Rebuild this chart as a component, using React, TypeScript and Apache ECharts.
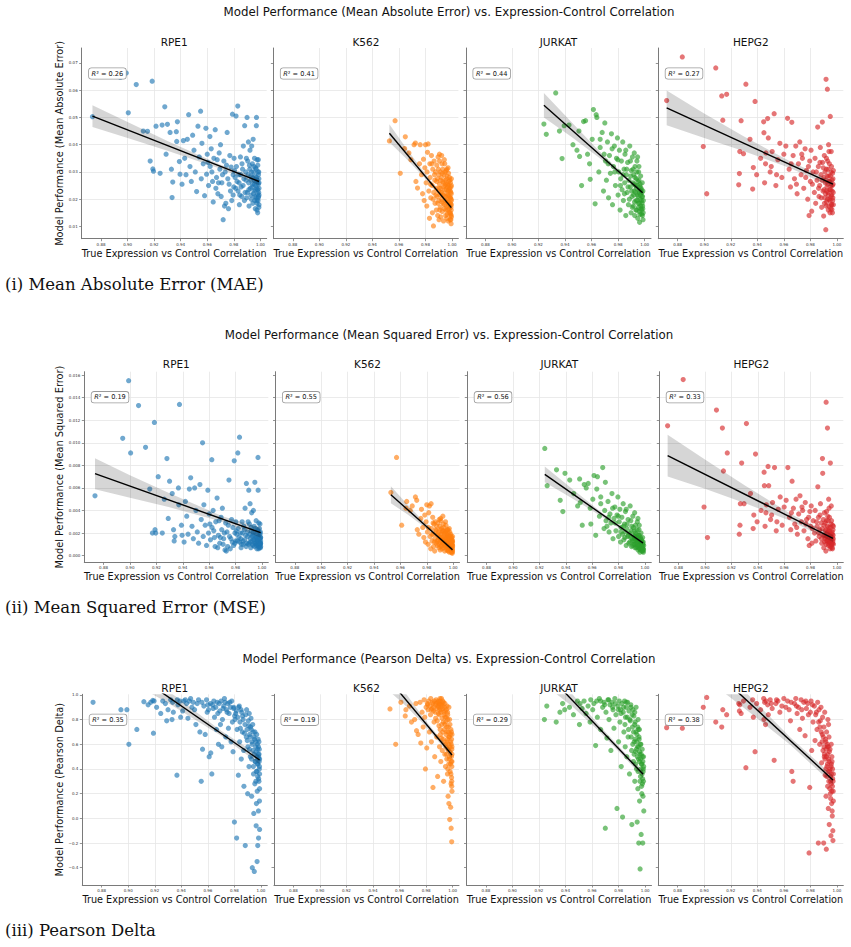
import React, { useEffect, useRef } from "react";
import * as echarts from "echarts";

// ---------- categories ----------
const cellLines = ["RPE1", "K562", "JURKAT", "HEPG2"];
const cellColors = ["#1f77b4", "#ff7f0e", "#2ca02c", "#d62728"];

// ---------- tick labels ----------
const xTicks = [0.88, 0.9, 0.92, 0.94, 0.96, 0.98, 1.0];
const maeTicks = [0.01, 0.02, 0.03, 0.04, 0.05, 0.06, 0.07];
const mseTicks = [0, 0.002, 0.004, 0.006, 0.008, 0.01, 0.012, 0.014, 0.016];
const pearsonTicks = [-0.4, -0.2, 0, 0.2, 0.4, 0.6, 0.8, 1.0];

// ---------- R² per panel ----------
const r2Mae = [0.26, 0.41, 0.44, 0.27];
const r2Mse = [0.19, 0.55, 0.56, 0.33];
const r2Pearson = [0.35, 0.19, 0.29, 0.38];

// ---------- RPE1: true expression vs control correlation, and metrics ----------
const rpe1X = [
  0.8735, 0.8945, 0.899, 0.9005, 0.9065, 0.9118, 0.915, 0.9185, 0.919, 0.9195,
  0.917, 0.9214, 0.9245, 0.926, 0.928, 0.929, 0.93, 0.932, 0.933, 0.934,
  0.9335, 0.9367, 0.937, 0.9375, 0.939, 0.9395, 0.941, 0.942, 0.943, 0.944,
  0.945, 0.946, 0.947, 0.948, 0.949, 0.95, 0.951, 0.952, 0.953, 0.954,
  0.955, 0.9555, 0.956, 0.957, 0.958, 0.959, 0.9595, 0.96, 0.961, 0.962,
  0.9622, 0.963, 0.964, 0.9645, 0.965, 0.966, 0.9665, 0.967, 0.968, 0.969,
  0.9695, 0.97, 0.9705, 0.971, 0.972, 0.9725, 0.973, 0.9735, 0.974, 0.975,
  0.9755, 0.976, 0.977, 0.9775, 0.978, 0.9785, 0.979, 0.9795, 0.98, 0.9802,
  0.981, 0.9817, 0.982, 0.983, 0.9832, 0.984, 0.9842, 0.985, 0.9852, 0.986,
  0.9862, 0.987, 0.9872, 0.988, 0.9882, 0.989, 0.9892, 0.99, 0.9902, 0.9905,
  0.991, 0.9912, 0.9915, 0.992, 0.9922, 0.9925, 0.993, 0.9932, 0.9935, 0.994,
  0.9942, 0.9944, 0.9946, 0.995, 0.9952, 0.9954, 0.9956, 0.996, 0.9962, 0.9964,
  0.9966, 0.997, 0.9971, 0.9972, 0.9974, 0.9976, 0.998, 0.9981, 0.9982, 0.9983,
  0.9984, 0.9986, 0.9988, 0.9989, 0.999, 0.999,
  0.9605, 0.9635, 0.9675, 0.9685, 0.9715, 0.9745, 0.9765, 0.9795, 0.9805, 0.9815,
  0.9825, 0.9837, 0.9845, 0.9855, 0.9866, 0.9876, 0.9885, 0.9895, 0.9897, 0.9908,
  0.9913, 0.9918, 0.9927, 0.9929, 0.9934, 0.9938, 0.9943, 0.9948, 0.9951, 0.9955,
  0.9958, 0.9961, 0.9963, 0.9965, 0.9968, 0.9969, 0.9973, 0.9975, 0.9977, 0.9979,
  0.9981, 0.9983, 0.9985, 0.9987, 0.9988, 0.9989, 0.999, 0.999, 0.9985, 0.9975,
];
const rpe1Mae = [
  0.0503, 0.0647, 0.0663, 0.0517, 0.0621, 0.045, 0.0449, 0.0633, 0.0311, 0.0303,
  0.034, 0.0468, 0.0295, 0.0472, 0.0539, 0.0365, 0.0475, 0.0445, 0.031, 0.0263,
  0.0206, 0.0448, 0.0412, 0.0484, 0.0338, 0.0292, 0.0255, 0.0415, 0.035, 0.029,
  0.042, 0.051, 0.032, 0.0265, 0.0435, 0.038, 0.03, 0.0228, 0.0468, 0.0355,
  0.0523, 0.0275, 0.0405, 0.033, 0.0213, 0.046, 0.0292, 0.0365, 0.025, 0.043,
  0.032, 0.0385, 0.0265, 0.019, 0.035, 0.0455, 0.024, 0.028, 0.022, 0.037,
  0.031, 0.04, 0.021, 0.026, 0.0125, 0.034, 0.0175, 0.03, 0.0185, 0.0445,
  0.0275, 0.0165, 0.036, 0.023, 0.0318, 0.0195, 0.0512, 0.029, 0.0245, 0.035,
  0.028, 0.0505, 0.032, 0.0542, 0.023, 0.026, 0.018, 0.0355, 0.029, 0.021,
  0.033, 0.025, 0.0395, 0.0195, 0.047, 0.03, 0.027, 0.05, 0.0225, 0.034,
  0.041, 0.026, 0.0175, 0.031, 0.038, 0.024, 0.0285, 0.02, 0.0395, 0.033,
  0.0255, 0.0185, 0.042, 0.03, 0.023, 0.027, 0.035, 0.021, 0.0165, 0.0315,
  0.025, 0.047, 0.05, 0.028, 0.0195, 0.0345, 0.015, 0.0235, 0.026, 0.03,
  0.0205, 0.029, 0.0225, 0.0275, 0.018, 0.024,
  0.0335, 0.03, 0.0345, 0.026, 0.029, 0.0325, 0.0255, 0.0215, 0.0305, 0.024,
  0.0265, 0.029, 0.0215, 0.0245, 0.031, 0.0275, 0.0225, 0.035, 0.0205, 0.029,
  0.0235, 0.0325, 0.027, 0.0215, 0.03, 0.0245, 0.028, 0.022, 0.032, 0.0255,
  0.0195, 0.0285, 0.0235, 0.0265, 0.0205, 0.031, 0.024, 0.0185, 0.027, 0.022,
  0.0325, 0.0195, 0.0255, 0.021, 0.03, 0.017, 0.026, 0.0215, 0.0345, 0.016,
];
const rpe1Mse = [
  0.0053, 0.0104, 0.0155, 0.0091, 0.0133, 0.0096, 0.0059, 0.0118, 0.0023, 0.002,
  0.002, 0.007, 0.002, 0.005, 0.0086, 0.0033, 0.0066, 0.0055, 0.0023, 0.0017,
  0.0013, 0.006, 0.0045, 0.0134, 0.0027, 0.0018, 0.0012, 0.0048, 0.0035, 0.0019,
  0.0059, 0.0069, 0.0026, 0.0015, 0.006, 0.004, 0.0021, 0.0011, 0.0063, 0.0032,
  0.01, 0.0017, 0.0045, 0.0027, 0.0009, 0.0058, 0.002, 0.0037, 0.0014, 0.0085,
  0.0025, 0.004, 0.0016, 0.0008, 0.003, 0.0051, 0.0007, 0.0018, 0.0011, 0.0034,
  0.0023, 0.0042, 0.001, 0.0015, 0.0005, 0.0029, 0.0004, 0.0021, 0.0008, 0.0067,
  0.0017, 0.0006, 0.0032, 0.0012, 0.0025, 0.0009, 0.0084, 0.002, 0.0013, 0.003,
  0.0019, 0.0091, 0.0024, 0.0105, 0.0012, 0.0015, 0.0007, 0.003, 0.002, 0.001,
  0.0026, 0.0014, 0.0042, 0.0008, 0.0064, 0.0021, 0.0017, 0.0058, 0.0011, 0.0028,
  0.0046, 0.0015, 0.0007, 0.0022, 0.0038, 0.0013, 0.0018, 0.0009, 0.004, 0.0026,
  0.0014, 0.0008, 0.0065, 0.0021, 0.0011, 0.0016, 0.0031, 0.001, 0.0006, 0.0023,
  0.0014, 0.0087, 0.0058, 0.0017, 0.0009, 0.0029, 0.0007, 0.0012, 0.0015, 0.002,
  0.001, 0.0019, 0.0011, 0.0016, 0.0008, 0.0013,
  0.0028, 0.0022, 0.0031, 0.0016, 0.002, 0.0027, 0.0015, 0.0011, 0.0022, 0.0013,
  0.0016, 0.002, 0.001, 0.0013, 0.0023, 0.0018, 0.0011, 0.003, 0.001, 0.0019,
  0.0012, 0.0025, 0.0017, 0.001, 0.0021, 0.0014, 0.0018, 0.0011, 0.0024, 0.0015,
  0.0009, 0.0019, 0.0012, 0.0016, 0.001, 0.0022, 0.0013, 0.0008, 0.0017, 0.0011,
  0.0024, 0.0009, 0.0015, 0.001, 0.0021, 0.0007, 0.0016, 0.0011, 0.0028, 0.0006,
];
const rpe1Pearson = [
  0.94, 0.88, 0.88, 0.6, 0.72, 0.945, 0.92, 0.955, 0.69, 0.95,
  0.94, 0.9, 0.85, 0.95, 0.93, 0.79, 0.88, 0.96, 0.8, 0.86,
  0.94, 0.35, 0.96, 0.92, 0.95, 0.82, 0.87, 0.95, 0.96, 0.93,
  0.81, 0.95, 0.97, 0.9, 0.94, 0.88, 0.76, 0.93, 0.96, 0.7,
  0.3, 0.94, 0.56, 0.91, 0.68, 0.96, 0.86, 0.92, 0.5, 0.93,
  0.53, 0.36, 0.89, 0.95, 0.82, 0.9, 0.72, 0.94, 0.6, 0.87,
  0.76, 0.95, 0.58, 0.8, 0.91, 0.97, 0.94, 0.66, 0.88, 0.93,
  0.73, 0.85, 0.9, 0.62, 0.95, 0.78, 0.54, 0.89, -0.03, 0.83,
  0.85, -0.16, 0.72, 0.35, 0.9, 0.62, 0.78, 0.88, 0.48, 0.7,
  0.83, 0.55, 0.26, 0.76, -0.22, 0.66, 0.88, 0.2, 0.58, 0.79,
  0.42, 0.85, 0.68, 0.5, 0.74, 0.81, 0.18, 0.62, -0.4, 0.55,
  0.7, 0.36, 0.04, -0.43, 0.64, 0.28, 0.46, 0.58, 0.3, -0.06,
  0.12, 0.38, -0.35, 0.22, 0.44, -0.22, 0.52, 0.06, -0.16, 0.32,
  0.48, 0.52, 0.4, 0.14, 0.36, -0.09,
  0.88, 0.92, 0.85, 0.93, 0.89, 0.86, 0.94, 0.9, 0.8, 0.87,
  0.82, 0.91, 0.73, 0.86, 0.8, 0.69, 0.84, 0.72, 0.63, 0.75,
  0.56, 0.66, 0.72, 0.48, 0.6, 0.76, 0.42, 0.66, 0.52, 0.7,
  0.46, 0.62, 0.54, 0.38, 0.68, 0.5, 0.6, 0.56, 0.44, 0.64,
  0.58, 0.5, 0.3, 0.46, 0.56, 0.42, 0.48, 0.24, 0.62, 0.34,
];

// ---------- K562 ----------
const k562X = [
  0.9528, 0.9571, 0.961, 0.9643, 0.9648, 0.9675, 0.969, 0.9714, 0.9724, 0.9728,
  0.974, 0.9755, 0.976, 0.977, 0.9778, 0.9785, 0.979, 0.9795, 0.98, 0.9805,
  0.981, 0.9815, 0.982, 0.9825, 0.983, 0.9833, 0.9835, 0.984, 0.9845, 0.985,
  0.9852, 0.9855, 0.986, 0.9862, 0.9865, 0.987, 0.9872, 0.9875, 0.988, 0.9882,
  0.9885, 0.9887, 0.989, 0.9892, 0.9895, 0.9897, 0.99, 0.9901, 0.9902, 0.9905,
  0.9906, 0.991, 0.9911, 0.9912, 0.9915, 0.9916, 0.992, 0.9921, 0.9922, 0.9925,
  0.9926, 0.993, 0.9931, 0.9932, 0.9935, 0.9936, 0.994, 0.9941, 0.9942, 0.9945,
  0.9946, 0.995, 0.9951, 0.9952, 0.9955, 0.9956, 0.9958, 0.996, 0.9961, 0.9962,
  0.9965, 0.9966, 0.9968, 0.997, 0.9971, 0.9972, 0.9975, 0.9976, 0.9978, 0.998,
  0.9981, 0.9982, 0.9985, 0.9986, 0.9988, 0.9989, 0.999, 0.9991, 0.9992, 0.9993,
  0.9995, 0.9995, 0.9995,
  0.9812, 0.9838, 0.9848, 0.9858, 0.9868, 0.9878, 0.9884, 0.9893, 0.9898, 0.9903,
  0.9908, 0.9913, 0.9918, 0.9923, 0.9927, 0.9933, 0.9937, 0.9943, 0.9947, 0.9948,
  0.9953, 0.9954, 0.9957, 0.9959, 0.9963, 0.9964, 0.9967, 0.9969, 0.9973, 0.9974,
  0.9977, 0.9979, 0.9983, 0.9984, 0.9987, 0.9987, 0.9989, 0.9991, 0.9992, 0.9993,
  0.9994, 0.9994, 0.9995, 0.9995, 0.9993, 0.9972, 0.9962, 0.9942, 0.9925, 0.9905,
];
const k562Mae = [
  0.0414, 0.0488, 0.0295, 0.0386, 0.0429, 0.037, 0.0345, 0.04, 0.0406, 0.0265,
  0.0241, 0.033, 0.04, 0.029, 0.022, 0.0347, 0.0195, 0.0315, 0.04, 0.026,
  0.0175, 0.0372, 0.0403, 0.023, 0.013, 0.033, 0.028, 0.0205, 0.036, 0.025,
  0.015, 0.031, 0.0102, 0.0225, 0.034, 0.027, 0.0185, 0.03, 0.024, 0.016,
  0.0325, 0.021, 0.0275, 0.014, 0.0355, 0.023, 0.0195, 0.029, 0.0125, 0.0255,
  0.034, 0.0215, 0.017, 0.03, 0.024, 0.0135, 0.028, 0.02, 0.036, 0.0225,
  0.0155, 0.0265, 0.031, 0.0185, 0.0245, 0.012, 0.029, 0.021, 0.0165, 0.033,
  0.0235, 0.0195, 0.027, 0.014, 0.0255, 0.0305, 0.0175, 0.022, 0.013, 0.0285,
  0.02, 0.0245, 0.016, 0.0315, 0.023, 0.012, 0.0265, 0.019, 0.021, 0.015,
  0.028, 0.024, 0.018, 0.0125, 0.026, 0.0205, 0.0145, 0.0225, 0.017, 0.011,
  0.0195, 0.0135, 0.025,
  0.03, 0.0255, 0.033, 0.02, 0.029, 0.0215, 0.0265, 0.0185, 0.031, 0.024,
  0.016, 0.027, 0.0225, 0.019, 0.0295, 0.0215, 0.026, 0.018, 0.025, 0.03,
  0.021, 0.016, 0.0235, 0.0275, 0.019, 0.0145, 0.0255, 0.0215, 0.0175, 0.0295,
  0.0235, 0.0165, 0.0205, 0.027, 0.015, 0.023, 0.0185, 0.0125, 0.0245, 0.02,
  0.016, 0.022, 0.018, 0.0275, 0.014, 0.025, 0.031, 0.0345, 0.033, 0.0365,
];
const k562Mse = [
  0.0056, 0.0087, 0.0027, 0.0042, 0.0048, 0.004, 0.0044, 0.0052, 0.0049, 0.0023,
  0.0019, 0.0033, 0.0041, 0.0025, 0.0016, 0.0036, 0.0012, 0.003, 0.0045, 0.0021,
  0.001, 0.0038, 0.0044, 0.0017, 0.0006, 0.0046, 0.0024, 0.0013, 0.0034, 0.0019,
  0.0008, 0.0028, 0.0004, 0.0015, 0.003, 0.0022, 0.0011, 0.0026, 0.0018, 0.0009,
  0.0029, 0.0014, 0.0021, 0.0007, 0.0032, 0.0016, 0.0012, 0.0023, 0.0005, 0.0019,
  0.0031, 0.0013, 0.0009, 0.0024, 0.0016, 0.0006, 0.0022, 0.0011, 0.0035, 0.0014,
  0.0007, 0.002, 0.0025, 0.001, 0.0016, 0.0004, 0.0021, 0.0012, 0.0008, 0.0027,
  0.0015, 0.0011, 0.0019, 0.0005, 0.0017, 0.0023, 0.0009, 0.0013, 0.0004, 0.002,
  0.001, 0.0015, 0.0007, 0.0024, 0.0013, 0.0003, 0.0017, 0.0009, 0.0011, 0.0006,
  0.0019, 0.0014, 0.0008, 0.0003, 0.0016, 0.001, 0.0005, 0.0012, 0.0007, 0.0002,
  0.0009, 0.0004, 0.0013,
  0.0025, 0.0019, 0.0029, 0.0012, 0.0023, 0.0013, 0.0019, 0.001, 0.0026, 0.0016,
  0.0008, 0.0019, 0.0014, 0.0011, 0.0022, 0.0012, 0.0018, 0.0009, 0.0016, 0.0022,
  0.0012, 0.0007, 0.0014, 0.0018, 0.001, 0.0005, 0.0016, 0.0012, 0.0008, 0.0021,
  0.0014, 0.0007, 0.0011, 0.0017, 0.0005, 0.0013, 0.0009, 0.0003, 0.0014, 0.001,
  0.0006, 0.0012, 0.0008, 0.0017, 0.0004, 0.0015, 0.0023, 0.003, 0.0028, 0.0033,
];
const k562Pearson = [
  0.886, 0.6, 0.94, 0.83, 0.88, 0.91, 0.78, 0.8, 0.93, 0.71,
  0.68, 0.94, 0.61, 0.86, 0.74, 0.96, 0.82, 0.4, 0.9, 0.57,
  0.93, 0.88, 0.95, 0.7, 0.91, 0.84, 0.97, 0.62, 0.89, 0.93,
  0.25, 0.87, 0.78, 0.95, 0.5, 0.92, 0.81, 0.96, 0.66, 0.89,
  0.94, 0.34, 0.91, 0.85, 0.9, 0.75, 0.93, 0.58, 0.88, 0.95,
  0.72, 0.86, 0.46, 0.92, 0.65, 0.97, 0.81, 0.93, 0.55, 0.89,
  0.7, 0.78, 0.94, 0.3, 0.84, 0.62, 0.9, 0.52, 0.76, 0.87,
  0.42, 0.68, 0.82, 0.58, 0.74, 0.48, 0.91, 0.64, 0.36, 0.8,
  0.56, 0.18, 0.7, 0.6, 0.44, 0.12, 0.66, 0.5, -0.01, 0.76,
  0.38, 0.54, 0.09, 0.62, 0.28, -0.08, 0.46, 0.7, 0.33, -0.19,
  0.52, 0.22, 0.58,
  0.92, 0.88, 0.94, 0.9, 0.86, 0.93, 0.79, 0.95, 0.84, 0.92,
  0.68, 0.88, 0.76, 0.91, 0.64, 0.86, 0.72, 0.82, 0.6, 0.78,
  0.88, 0.52, 0.7, 0.62, 0.84, 0.4, 0.74, 0.56, 0.66, 0.48,
  0.8, 0.58, 0.68, 0.44, 0.72, 0.36, 0.6, 0.5, 0.64, 0.26,
  0.56, 0.42, 0.68, 0.46, 0.3, 0.9, 0.86, 0.93, 0.95, 0.97,
];

// ---------- JURKAT ----------
const jurkatX = [
  0.9241, 0.9259, 0.933, 0.9358, 0.9378, 0.9394, 0.943, 0.946, 0.949, 0.9505,
  0.951, 0.9525, 0.954, 0.9555, 0.957, 0.9585, 0.959, 0.9605, 0.9614, 0.9627,
  0.9635, 0.964, 0.9655, 0.9665, 0.968, 0.969, 0.97, 0.9705, 0.9712, 0.972,
  0.9728, 0.9735, 0.9742, 0.975, 0.9758, 0.9765, 0.9772, 0.978, 0.9788, 0.9795,
  0.98, 0.9805, 0.981, 0.9815, 0.982, 0.9825, 0.983, 0.9835, 0.984, 0.9845,
  0.985, 0.9852, 0.9858, 0.9862, 0.9868, 0.9872, 0.9878, 0.9882, 0.9888, 0.9892,
  0.9898, 0.99, 0.9905, 0.9908, 0.9912, 0.9915, 0.9918, 0.9922, 0.9925, 0.9928,
  0.9932, 0.9935, 0.9938, 0.994, 0.9942, 0.9945, 0.9948, 0.995, 0.9952, 0.9955,
  0.9958, 0.996, 0.9962, 0.9965, 0.9968, 0.997, 0.9972, 0.9975, 0.9978, 0.998,
  0.9982, 0.9985, 0.9988, 0.999,
  0.9665, 0.9695, 0.9725, 0.9755, 0.9775, 0.9798, 0.9818, 0.9838, 0.9848, 0.9865,
  0.9875, 0.9885, 0.9895, 0.9902, 0.9907, 0.9913, 0.9917, 0.9921, 0.9924, 0.9927,
  0.9931, 0.9934, 0.9937, 0.9941, 0.9944, 0.9947, 0.9951, 0.9954, 0.9957, 0.9959,
  0.9961, 0.9964, 0.9966, 0.9969, 0.9971, 0.9973, 0.9976, 0.9977, 0.9979, 0.9981,
  0.9983, 0.9984, 0.9986, 0.9987, 0.9989, 0.9957, 0.9947, 0.9922, 0.9893, 0.9858,
];
const jurkatMae = [
  0.0476, 0.0438, 0.059, 0.045, 0.0349, 0.047, 0.0472, 0.04, 0.038, 0.045,
  0.0357, 0.025, 0.0485, 0.0488, 0.0365, 0.033, 0.0273, 0.042, 0.0529, 0.0183,
  0.051, 0.05, 0.03, 0.039, 0.0445, 0.023, 0.048, 0.034, 0.027, 0.041,
  0.0205, 0.036, 0.0295, 0.044, 0.018, 0.032, 0.0395, 0.025, 0.035, 0.0425,
  0.0215, 0.03, 0.038, 0.016, 0.0275, 0.034, 0.0235, 0.041, 0.0195, 0.031,
  0.026, 0.0365, 0.014, 0.029, 0.0225, 0.0335, 0.018, 0.027, 0.0395, 0.0245,
  0.015, 0.0305, 0.021, 0.0355, 0.026, 0.0175, 0.029, 0.023, 0.014, 0.032,
  0.025, 0.0195, 0.0275, 0.016, 0.034, 0.0215, 0.013, 0.0265, 0.0185, 0.03,
  0.0225, 0.0155, 0.0115, 0.0245, 0.02, 0.0285, 0.0165, 0.0235, 0.0145, 0.021,
  0.026, 0.0175, 0.0125, 0.0195,
  0.042, 0.0365, 0.033, 0.0385, 0.03, 0.0345, 0.025, 0.029, 0.022, 0.031,
  0.0245, 0.02, 0.0285, 0.023, 0.017, 0.031, 0.0215, 0.0255, 0.019, 0.028,
  0.0225, 0.016, 0.024, 0.03, 0.0195, 0.025, 0.021, 0.017, 0.027, 0.023,
  0.0185, 0.0145, 0.0255, 0.0215, 0.0175, 0.024, 0.0195, 0.016, 0.0225, 0.0185,
  0.014, 0.021, 0.0165, 0.023, 0.015, 0.032, 0.0355, 0.037, 0.034, 0.038,
];
const jurkatMse = [
  0.0095, 0.0062, 0.0076, 0.0049, 0.0039, 0.0073, 0.0067, 0.0055, 0.0044, 0.0068,
  0.0047, 0.0027, 0.0063, 0.006, 0.0064, 0.0042, 0.0028, 0.005, 0.0071, 0.0018,
  0.0059, 0.007, 0.0035, 0.0046, 0.0078, 0.0024, 0.0065, 0.0031, 0.0026, 0.0048,
  0.0021, 0.0037, 0.0029, 0.0055, 0.0015, 0.0033, 0.0043, 0.0022, 0.0036, 0.0052,
  0.0017, 0.003, 0.0041, 0.0012, 0.0025, 0.0034, 0.0019, 0.0046, 0.0014, 0.0028,
  0.0021, 0.0039, 0.0009, 0.0024, 0.0017, 0.0032, 0.0011, 0.002, 0.0044, 0.0016,
  0.0008, 0.0026, 0.0013, 0.0035, 0.0018, 0.001, 0.0022, 0.0015, 0.0007, 0.0027,
  0.0016, 0.0011, 0.0019, 0.0008, 0.003, 0.0013, 0.0005, 0.0018, 0.0009, 0.0023,
  0.0014, 0.0006, 0.0003, 0.0015, 0.0011, 0.002, 0.0007, 0.0012, 0.0004, 0.001,
  0.0016, 0.0006, 0.0003, 0.0009,
  0.0052, 0.004, 0.0034, 0.0042, 0.0029, 0.0035, 0.0021, 0.0026, 0.0016, 0.0028,
  0.0018, 0.0012, 0.0022, 0.0015, 0.0009, 0.0025, 0.0013, 0.0017, 0.001, 0.002,
  0.0014, 0.0007, 0.0015, 0.0023, 0.001, 0.0016, 0.0012, 0.0007, 0.0018, 0.0013,
  0.0009, 0.0005, 0.0016, 0.0012, 0.0007, 0.0014, 0.001, 0.0006, 0.0012, 0.0008,
  0.0004, 0.001, 0.0006, 0.0012, 0.0005, 0.0027, 0.0033, 0.0038, 0.0031, 0.0041,
];
const jurkatPearson = [
  0.8, 0.91, 0.78, 0.86, 0.93, 0.88, 0.9, 0.84, 0.95, 0.76,
  0.93, 0.89, 0.95, 0.85, 0.91, 0.78, 0.96, 0.88, 0.93, 0.59,
  0.95, 0.82, 0.97, 0.72, 0.9, 0.94, -0.08, 0.86, 0.65, 0.96,
  0.8, 0.92, 0.55, 0.94, 0.88, 0.73, 0.97, 0.84, 0.08, 0.91,
  0.62, 0.95, 0.78, 0.88, 0.42, 0.93, 0.01, 0.86, 0.7, 0.95,
  0.58, 0.82, 0.9, 0.5, 0.94, 0.66, 0.87, 0.36, 0.79, 0.92,
  0.55, -0.05, 0.74, 0.88, 0.46, 0.83, 0.62, 0.3, 0.78, 0.54,
  0.9, 0.4, 0.68, -0.03, 0.58, 0.24, 0.72, 0.48, -0.2, 0.64,
  0.14, 0.52, -0.41, 0.34, 0.6, -0.13, 0.44, 0.2, 0.56, 0.28,
  -0.2, 0.38, 0.5, 0.06,
  0.95, 0.92, 0.96, 0.9, 0.93, 0.88, 0.85, 0.9, 0.76, 0.82,
  0.72, 0.8, 0.66, 0.84, 0.6, 0.7, 0.52, 0.76, 0.64, 0.44,
  0.7, 0.56, 0.62, 0.5, 0.74, 0.38, 0.58, 0.66, 0.46, 0.54,
  0.3, 0.6, 0.48, 0.4, 0.52, 0.26, 0.44, 0.36, 0.5, 0.32,
  0.46, 0.18, 0.4, 0.3, 0.42, 0.72, 0.8, 0.86, 0.9, 0.94,
];

// ---------- HEPG2 ----------
const hepg2X = [
  0.8717, 0.8835, 0.8993, 0.9019, 0.9087, 0.9132, 0.914, 0.9169, 0.926, 0.9265,
  0.9268, 0.9278, 0.9296, 0.9314, 0.9345, 0.9365, 0.937, 0.9383, 0.9395, 0.9425,
  0.9448, 0.945, 0.9455, 0.9462, 0.9478, 0.9483, 0.9497, 0.9512, 0.9527, 0.954,
  0.9555, 0.957, 0.9585, 0.96, 0.9628, 0.964, 0.965, 0.966, 0.967, 0.968,
  0.969, 0.97, 0.971, 0.972, 0.973, 0.974, 0.975, 0.976, 0.977, 0.978,
  0.979, 0.9795, 0.98, 0.9805, 0.981, 0.982, 0.983, 0.9835, 0.984, 0.985,
  0.9855, 0.986, 0.9865, 0.987, 0.9875, 0.988, 0.9885, 0.989, 0.9892, 0.9895,
  0.99, 0.9902, 0.9905, 0.9908, 0.9912, 0.9916, 0.9918, 0.992, 0.9922, 0.9925,
  0.9928, 0.993, 0.9932, 0.9935, 0.9938, 0.994, 0.9942, 0.9945, 0.9948, 0.995,
  0.9952, 0.9955, 0.9958, 0.996, 0.9962, 0.9965, 0.9968, 0.997, 0.9972,
  0.9465, 0.9505, 0.9545, 0.9615, 0.9655, 0.9695, 0.9735, 0.9765, 0.9785, 0.9815,
  0.9845, 0.9862, 0.9872, 0.9882, 0.9888, 0.9897, 0.9903, 0.9906, 0.991, 0.9914,
  0.9917, 0.9919, 0.9921, 0.9924, 0.9927, 0.9929, 0.9931, 0.9934, 0.9936, 0.9939,
  0.9941, 0.9943, 0.9946, 0.9949, 0.9951, 0.9953, 0.9956, 0.9957, 0.9959, 0.9961,
  0.9963, 0.9964, 0.9966, 0.9967, 0.9969, 0.9971, 0.9973, 0.9973, 0.9957, 0.9937,
];
const hepg2Mae = [
  0.0562, 0.0722, 0.0393, 0.022, 0.0682, 0.0579, 0.049, 0.0585, 0.0253, 0.0294,
  0.0375, 0.0488, 0.0367, 0.0622, 0.042, 0.0237, 0.0316, 0.0559, 0.029, 0.035,
  0.0484, 0.0444, 0.026, 0.033, 0.0496, 0.0425, 0.03, 0.0375, 0.0514, 0.025,
  0.0345, 0.0405, 0.028, 0.0365, 0.0497, 0.031, 0.0245, 0.0482, 0.036, 0.0275,
  0.0395, 0.022, 0.033, 0.041, 0.029, 0.035, 0.024, 0.0385, 0.0305, 0.02,
  0.014, 0.034, 0.0265, 0.038, 0.0156, 0.03, 0.0225, 0.035, 0.0185, 0.027,
  0.0465, 0.032, 0.021, 0.025, 0.039, 0.029, 0.017, 0.0483, 0.0335, 0.023,
  0.0138, 0.028, 0.036, 0.0205, 0.026, 0.0088, 0.064, 0.031, 0.019, 0.0245,
  0.0604, 0.034, 0.0225, 0.016, 0.0285, 0.0375, 0.02, 0.0265, 0.015, 0.0504,
  0.0235, 0.03, 0.018, 0.0215, 0.0162, 0.025, 0.0195, 0.0275, 0.0225,
  0.037, 0.032, 0.029, 0.0395, 0.033, 0.0255, 0.0365, 0.028, 0.032, 0.0255,
  0.03, 0.024, 0.0335, 0.0205, 0.027, 0.0315, 0.0235, 0.0185, 0.03, 0.022,
  0.027, 0.0175, 0.035, 0.023, 0.0285, 0.02, 0.0255, 0.031, 0.0215, 0.0175,
  0.0265, 0.033, 0.0235, 0.0195, 0.0285, 0.0165, 0.025, 0.021, 0.032, 0.018,
  0.027, 0.023, 0.015, 0.0295, 0.0205, 0.0255, 0.018, 0.0305, 0.0375, 0.04,
];
const hepg2Mse = [
  0.0115, 0.0156, 0.0043, 0.0016, 0.0129, 0.0113, 0.0075, 0.0091, 0.0019, 0.0027,
  0.0046, 0.0082, 0.0046, 0.0117, 0.0055, 0.0024, 0.0036, 0.009, 0.003, 0.004,
  0.0074, 0.0062, 0.0026, 0.0038, 0.0079, 0.0062, 0.0032, 0.0047, 0.0078, 0.0022,
  0.0041, 0.0052, 0.0027, 0.0043, 0.0078, 0.0034, 0.0023, 0.0066, 0.0042, 0.0028,
  0.005, 0.0019, 0.0037, 0.0053, 0.003, 0.004, 0.0022, 0.0047, 0.0032, 0.0015,
  0.0009, 0.0039, 0.0026, 0.0044, 0.0011, 0.0031, 0.002, 0.004, 0.0013, 0.0026,
  0.0061, 0.0034, 0.0017, 0.0023, 0.0046, 0.0029, 0.0011, 0.0086, 0.0073, 0.0018,
  0.0007, 0.0027, 0.0038, 0.0015, 0.0022, 0.0004, 0.0136, 0.0031, 0.0013, 0.002,
  0.0113, 0.0035, 0.0016, 0.0009, 0.0025, 0.0042, 0.0012, 0.0021, 0.0006, 0.0082,
  0.0017, 0.0028, 0.001, 0.0014, 0.0007, 0.0019, 0.0011, 0.0023, 0.0015,
  0.0045, 0.0036, 0.003, 0.0049, 0.0038, 0.0025, 0.0043, 0.0028, 0.0034, 0.0024,
  0.003, 0.002, 0.0036, 0.0015, 0.0024, 0.0032, 0.0018, 0.0012, 0.0029, 0.0016,
  0.0023, 0.001, 0.0039, 0.0017, 0.0026, 0.0013, 0.0021, 0.0031, 0.0014, 0.001,
  0.0022, 0.0034, 0.0017, 0.0012, 0.0025, 0.0008, 0.0019, 0.0014, 0.0031, 0.001,
  0.0021, 0.0016, 0.0006, 0.0027, 0.0013, 0.0018, 0.001, 0.0026, 0.0044, 0.005,
];
const hepg2Pearson = [
  0.735, 0.73, 0.9, 0.98, 0.78, 0.74, 0.88, 0.84, 0.93, 0.87,
  0.92, 0.85, 0.95, 0.41, 0.9, 0.96, 0.82, 0.54, 0.93, 0.88,
  0.97, 0.8, 0.94, 0.76, 0.92, 0.84, 0.96, 0.89, 0.47, 0.93,
  0.95, 0.86, 0.91, 0.97, 0.95, 0.88, 0.79, 0.38, 0.3, 0.93,
  0.97, 0.85, 0.9, 0.72, 0.96, 0.81, 0.94, 0.67, 0.89, 0.93,
  -0.28, 0.25, 0.86, 0.95, 0.55, 0.78, 0.91, 0.63, 0.84, 0.72,
  0.94, -0.2, 0.88, 0.6, 0.79, 0.9, 0.45, 0.68, 0.82, 0.55,
  -0.2, 0.74, 0.5, 0.86, 0.35, 0.62, 0.18, -0.25, 0.7, 0.42,
  0.58, 0.26, 0.8, 0.08, 0.48, 0.66, -0.05, 0.38, 0.56, 0.2,
  0.3, -0.14, 0.44, 0.12, 0.5, 0.02, 0.32, -0.18, 0.22,
  0.95, 0.93, 0.96, 0.9, 0.94, 0.91, 0.88, 0.95, 0.84, 0.92,
  0.86, 0.78, 0.74, 0.7, 0.62, 0.66, 0.58, 0.52, 0.48, 0.64,
  0.4, 0.56, 0.5, 0.34, 0.6, 0.44, 0.52, 0.38, 0.58, 0.3,
  0.46, 0.54, 0.24, 0.4, 0.34, 0.16, 0.42, 0.28, 0.36, 0.22,
  0.46, 0.06, 0.26, 0.4, -0.1, 0.3, 0.14, 0.36, 0.6, 0.76,
];

// ---------- fitted regression lines (x span per cell line, y at both ends) ----------
const fitX = [
  [0.8735, 0.999],
  [0.9528, 0.9995],
  [0.9241, 0.9985],
  [0.8717, 0.997],
];
const maeFitY = [[0.0505, 0.0265], [0.0442, 0.0169], [0.0545, 0.0224], [0.0535, 0.0255]];
const mseFitY = [[0.00726, 0.00204], [0.0054, 0.00053], [0.0072, 0.00112], [0.00886, 0.00153]];
const pearsonFitY = [[1.404, 0.473], [1.115, 0.513], [1.193, 0.357], [1.555, 0.311]];

// ---------- 95% confidence bands ----------
const bandX = [
  [0.8735, 0.9, 0.93, 0.97, 0.999],
  [0.9528, 0.965, 0.978, 0.99, 0.9995],
  [0.9241, 0.945, 0.965, 0.985, 0.9985],
  [0.8717, 0.9, 0.93, 0.965, 0.997],
];
const maeBandLo = [
  [0.0465, 0.0425, 0.0378, 0.0312, 0.0252],
  [0.0409, 0.0351, 0.0285, 0.0219, 0.016],
  [0.05, 0.0428, 0.0355, 0.0276, 0.0215],
  [0.0471, 0.0425, 0.0376, 0.0314, 0.0243],
];
const maeBandHi = [
  [0.0545, 0.0483, 0.0414, 0.0326, 0.0278],
  [0.0475, 0.0391, 0.0305, 0.0231, 0.0178],
  [0.059, 0.0482, 0.0381, 0.0288, 0.0233],
  [0.0599, 0.0515, 0.043, 0.0338, 0.0267],
];
const mseBandLo = [
  [0.00588, 0.00513, 0.00428, 0.003, 0.00159],
  [0.00465, 0.00368, 0.00255, 0.0014, 0.00035],
  [0.0065, 0.00507, 0.00363, 0.00207, 0.00098],
  [0.00701, 0.00592, 0.00467, 0.00306, 0.00121],
];
const mseBandHi = [
  [0.00864, 0.00713, 0.00552, 0.0035, 0.00249],
  [0.00615, 0.00458, 0.00299, 0.00164, 0.00071],
  [0.0079, 0.00591, 0.00403, 0.00227, 0.00126],
  [0.01071, 0.00852, 0.00623, 0.0037, 0.00185],
];
const pearsonBandLo = [
  [1.274, 1.116, 0.934, 0.669, 0.438],
  [1.025, 0.908, 0.765, 0.615, 0.483],
  [1.083, 0.908, 0.708, 0.487, 0.327],
  [1.38, 1.14, 0.895, 0.594, 0.276],
];
const pearsonBandHi = [
  [1.534, 1.296, 1.034, 0.709, 0.508],
  [1.205, 1.008, 0.815, 0.655, 0.543],
  [1.303, 1.008, 0.758, 0.527, 0.387],
  [1.72, 1.38, 1.035, 0.654, 0.346],
];

const cellX = [rpe1X, k562X, jurkatX, hepg2X];

// ---------- one row of four panels per metric ----------
const rows = [
  {
    title: "Model Performance (Mean Absolute Error) vs. Expression-Control Correlation",
    yName: "Model Performance (Mean Absolute Error)",
    caption: "(i) Mean Absolute Error (MAE)",
    values: [rpe1Mae, k562Mae, jurkatMae, hepg2Mae],
    ticks: maeTicks, step: 0.01, yMin: 0.0055, yMax: 0.0755, digits: 2,
    r2: r2Mae, fitY: maeFitY, lo: maeBandLo, hi: maeBandHi,
  },
  {
    title: "Model Performance (Mean Squared Error) vs. Expression-Control Correlation",
    yName: "Model Performance (Mean Squared Error)",
    caption: "(ii) Mean Squared Error (MSE)",
    values: [rpe1Mse, k562Mse, jurkatMse, hepg2Mse],
    ticks: mseTicks, step: 0.002, yMin: -0.0006, yMax: 0.0163, digits: 3,
    r2: r2Mse, fitY: mseFitY, lo: mseBandLo, hi: mseBandHi,
  },
  {
    title: "Model Performance (Pearson Delta) vs. Expression-Control Correlation",
    yName: "Model Performance (Pearson Delta)",
    caption: "(iii) Pearson Delta",
    values: [rpe1Pearson, k562Pearson, jurkatPearson, hepg2Pearson],
    ticks: pearsonTicks, step: 0.2, yMin: -0.54, yMax: 1.005, digits: 1,
    r2: r2Pearson, fitY: pearsonFitY, lo: pearsonBandLo, hi: pearsonBandHi,
  },
];

// ---------- layout ----------
const FONT = "DejaVu Sans";
const SERIF = "DejaVu Serif";
const rowTop = [48, 371.7, 694.3];
const rowLefts = [
  [81.7, 273.4, 466, 658.3],
  [84.3, 275.5, 467.3, 659.3],
  [82.3, 274, 466.5, 658.3],
];
const rowWidth = [185, 184, 185];
const panelH = 190.7;
const suptitleY = [12.3, 335, 659];
const panelTitleY = [41.7, 364.3, 688.3];
const xNameY = [253.3, 576.7, 899.3];
const captionY = [284.3, 607.5, 930.5];
const X_MIN = 0.8654;
const X_MAX = 1.0048;
const spineColor = "#7a7a7a";
const gridColor = "#e6e6e6";

const isTick = (v: number, ticks: number[], step: number) =>
  ticks.some((t) => Math.abs(t - v) < step * 1e-3);

function buildOption() {
  const grid: any[] = [];
  const xAxis: any[] = [];
  const yAxis: any[] = [];
  const series: any[] = [];
  const graphic: any[] = [];

  rows.forEach((row, r) => {
    const top = rowTop[r];
    const w = rowWidth[r];

    graphic.push({
      type: "text", x: 449, y: suptitleY[r], silent: true,
      style: { text: row.title, fontSize: 11.8, fontFamily: FONT, fill: "#111", align: "center", verticalAlign: "middle" },
    });
    graphic.push({
      type: "text", x: 59.3, y: top + panelH / 2, rotation: Math.PI / 2, silent: true,
      style: { text: row.yName, fontSize: 9.8, fontFamily: FONT, fill: "#111", align: "center", verticalAlign: "middle" },
    });
    graphic.push({
      type: "text", x: 5, y: captionY[r], silent: true,
      style: { text: row.caption, fontSize: 16.5, fontFamily: SERIF, fill: "#111", align: "left", verticalAlign: "middle" },
    });

    cellLines.forEach((name, c) => {
      const idx = r * 4 + c;
      const left = rowLefts[r][c];
      grid.push({ left, top, width: w, height: panelH });

      xAxis.push({
        type: "value", gridIndex: idx, min: X_MIN, max: X_MAX,
        splitNumber: 7, minInterval: 0.02, maxInterval: 0.02,
        axisLine: { show: true, onZero: false, lineStyle: { color: spineColor, width: 1 } },
        axisTick: { show: true, length: 2.5, customValues: xTicks, lineStyle: { color: spineColor, width: 0.8 } },
        axisLabel: {
          show: true, customValues: xTicks, fontSize: 4, fontFamily: FONT, color: "#333", margin: 3.5,
          formatter: (v: number) => (isTick(v, xTicks, 0.02) ? v.toFixed(2) : ""),
        },
        splitLine: { show: true, showMinLine: false, showMaxLine: false, lineStyle: { color: gridColor, width: 0.8 } },
      });

      yAxis.push({
        type: "value", gridIndex: idx, min: row.yMin, max: row.yMax,
        splitNumber: row.ticks.length, minInterval: row.step, maxInterval: row.step,
        axisLine: { show: true, onZero: false, lineStyle: { color: spineColor, width: 1 } },
        axisTick: { show: true, length: 2.5, customValues: row.ticks, lineStyle: { color: spineColor, width: 0.8 } },
        axisLabel: {
          show: c === 0, customValues: row.ticks, fontSize: 4, fontFamily: FONT, color: "#333", margin: 4,
          formatter: (v: number) =>
            isTick(v, row.ticks, row.step) ? v.toFixed(row.digits).replace("-", "\u2212") : "",
        },
        splitLine: { show: true, showMinLine: false, showMaxLine: false, lineStyle: { color: gridColor, width: 0.8 } },
      });

      const xs = cellX[c];
      const ys = row.values[c];
      series.push({
        type: "scatter", xAxisIndex: idx, yAxisIndex: idx, silent: true, z: 2,
        symbolSize: 5.2,
        itemStyle: { color: cellColors[c], opacity: 0.64 },
        data: xs.map((x, k) => [x, ys[k]]),
      });

      const bx = bandX[c];
      const lo = row.lo[c];
      const hi = row.hi[c];
      series.push({
        type: "custom", xAxisIndex: idx, yAxisIndex: idx, silent: true, z: 3, clip: true,
        data: [[bx[0], lo[0]]],
        renderItem: (_p: any, api: any) => {
          const pts: number[][] = [];
          for (let k = 0; k < bx.length; k++) pts.push(api.coord([bx[k], hi[k]]));
          for (let k = bx.length - 1; k >= 0; k--) pts.push(api.coord([bx[k], lo[k]]));
          return { type: "polygon", shape: { points: pts }, style: { fill: "rgba(0,0,0,0.16)" } };
        },
      });

      const fx = fitX[c];
      const fy = row.fitY[c];
      series.push({
        type: "line", xAxisIndex: idx, yAxisIndex: idx, silent: true, z: 4, clip: true,
        symbol: "none", animation: false,
        lineStyle: { color: "#000", width: 1.4 },
        data: [[fx[0], fy[0]], [fx[1], fy[1]]],
      });

      graphic.push({
        type: "text", x: left + w / 2, y: panelTitleY[r], silent: true,
        style: { text: name, fontSize: 10.5, fontFamily: FONT, fill: "#111", align: "center", verticalAlign: "middle" },
      });
      graphic.push({
        type: "text", x: left + w / 2, y: xNameY[r], silent: true,
        style: { text: "True Expression vs Control Correlation", fontSize: 9.7, fontFamily: FONT, fill: "#111", align: "center", verticalAlign: "middle" },
      });
      graphic.push({
        type: "text", x: left + 7.3, y: top + 20.2, silent: true, z: 100,
        style: {
          text: `{i|R}\u00b2 = ${row.r2[c].toFixed(2)}`,
          rich: { i: { fontStyle: "italic", fontSize: 6.6, fontFamily: FONT, fill: "#111" } },
          fontSize: 6.6, fontFamily: FONT, fill: "#111",
          backgroundColor: "#fff", borderColor: "#9a9a9a", borderWidth: 0.8, borderRadius: 2.5,
          padding: [2, 2.6, 1.6, 2.6],
          align: "left", verticalAlign: "top",
        },
      });
    });
  });

  return {
    animation: false,
    backgroundColor: "#fff",
    grid,
    xAxis,
    yAxis,
    series,
    graphic,
  };
}

export default function App() {
  const ref = useRef<HTMLDivElement>(null);
  useEffect(() => {
    if (!ref.current) return;
    const chart = echarts.init(ref.current, null, { renderer: "svg" });
    chart.setOption(buildOption());
    return () => chart.dispose();
  }, []);
  return (
    <div
      ref={ref}
      style={{ position: "absolute", left: 0, top: 0, width: 851, height: 947, background: "#fff" }}
    />
  );
}
